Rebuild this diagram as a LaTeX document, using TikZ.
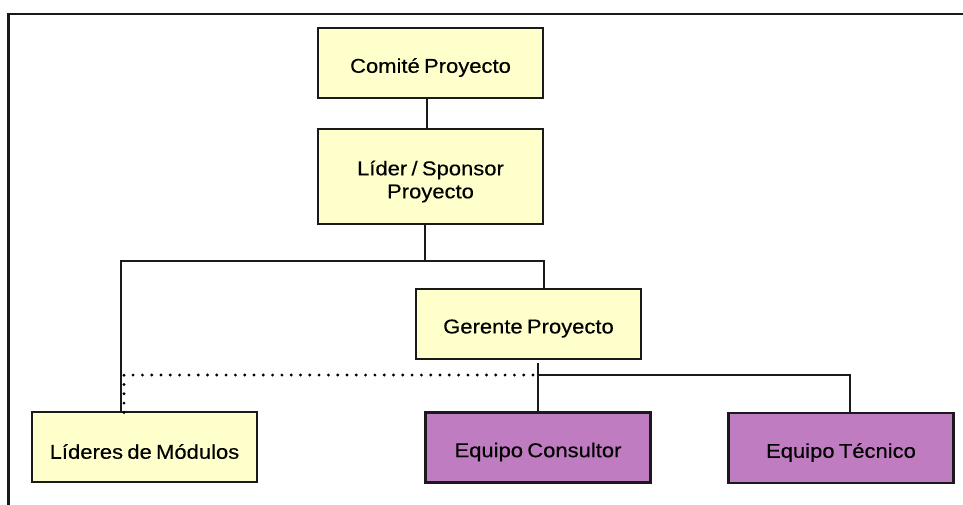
\documentclass[tikz,border=0pt]{standalone}
\usepackage{fontspec}
\setmainfont{Liberation Sans}[FakeStretch=1.1, WordSpace=0.7, FakeBold=0.3]
\definecolor{boxyellow}{HTML}{FFFFCC}
\definecolor{boxpurple}{HTML}{C07CC0}
\definecolor{edge}{HTML}{1A1A1A}
\begin{document}
\begin{tikzpicture}[x=1pt,y=-1pt,
  box/.style={rectangle, draw=edge, line width=2.6pt, minimum width=225pt, minimum height=70pt, inner sep=0pt},
  ybox/.style={box, fill=boxyellow},
  pbox/.style={box, fill=boxpurple},
  txt/.style={font=\fontsize{20}{23}\selectfont, align=center, inner sep=0pt, text=black},
  conn/.style={draw=edge, line width=2pt},
  dots/.style={draw=black, line width=3.2pt, line cap=round, dash pattern=on 0pt off 9.3pt}]
\useasboundingbox (0,0) rectangle (963,504);
\fill[white] (0,0) rectangle (963,504);
% frame
\draw[line width=2.4pt, draw=black!90] (8.5,510) -- (8.5,14) -- (970,14);
% boxes
\node[ybox] (com) at (430.5,63) {};
\node[ybox, minimum height=95pt] (lid) at (430.5,176.5) {};
\node[ybox] (ger) at (528.5,324) {};
\node[ybox] (lm) at (144.5,447) {};
\node[pbox] (con) at (538,447.5) {};
\node[pbox] (tec) at (841,448) {};
% texts
\node[txt] (comt) at ([yshift=-4.5pt]com.center) {Comité Proyecto};
\node[txt] (lidt) at ([yshift=-5pt]lid.center) {Líder / Sponsor\\Proyecto};
\node[txt] (gert) at ([yshift=-4.5pt]ger.center) {Gerente Proyecto};
\node[txt] (lmt) at ([yshift=-4.5pt]lm.center) {Líderes de Módulos};
\node[txt] (cont) at ([yshift=-4.5pt]con.center) {Equipo Consultor};
\node[txt] (tect) at ([yshift=-4.5pt]tec.center) {Equipo Técnico};
% junctions
\coordinate (jl) at (121,261);
\coordinate (jr) at (544,261);
\coordinate (jm) at (424.5,261);
\coordinate (jg) at (538,375);
\coordinate (jt) at (850,375);
\coordinate (dl) at (124,375);
% connectors
\draw[conn] ([xshift=-3.5pt]com.south) -- ([xshift=-3.5pt]lid.north);
\draw[conn] (lid.south -| jm) -- (jm);
\draw[conn] (lm.north -| jl) -- (jl) -- (jr) -- (jr |- ger.north);
\draw[conn] ([yshift=-3pt]ger.south -| jg) -- (con.north);
\draw[conn] (jg) -- (jt) -- (jt |- tec.north);
\draw[dots] ([xshift=-5pt]jg) -- (dl) -- ([yshift=-3pt]dl |- lm.north);
\end{tikzpicture}
\end{document}
